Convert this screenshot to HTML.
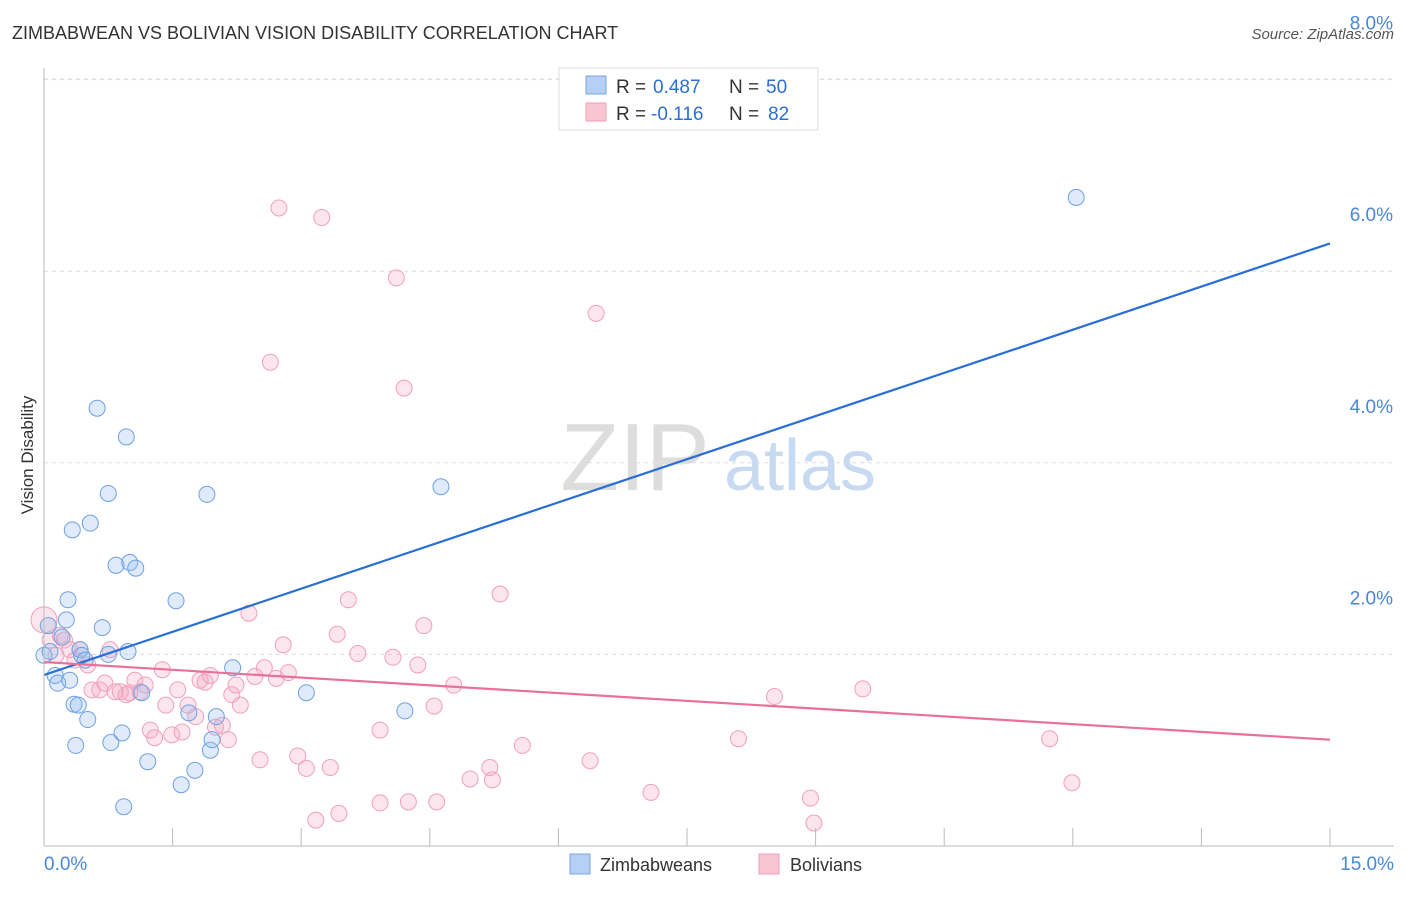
<!DOCTYPE html>
<html><head><meta charset="utf-8"><style>
body{margin:0;background:#fff;font-family:"Liberation Sans",sans-serif}
svg text{font-family:"Liberation Sans",sans-serif}
</style></head><body>
<svg width="1406" height="892" id="chart">
<text x="12" y="39" font-size="18" fill="#333">ZIMBABWEAN VS BOLIVIAN VISION DISABILITY CORRELATION CHART</text>
<text x="1394" y="39" font-size="15" fill="#555" font-style="italic" text-anchor="end">Source: ZipAtlas.com</text>
<text x="33" y="455" font-size="17" fill="#333" transform="rotate(-90 33 455)" text-anchor="middle">Vision Disability</text>
<g id="grid"></g>
<g id="wm">
<text x="635" y="490" font-size="96" fill="#ddd" font-family="Liberation Serif" text-anchor="middle">ZIP</text>
<text x="800" y="490" font-size="72" fill="#c8d9f2" text-anchor="middle">atlas</text></g>
<g id="pts"></g><g id="lines"></g><g id="axes"></g>
<g>
<rect x="559" y="68" width="259" height="62" fill="#fff" stroke="#ddd"/>
<rect x="586" y="76" width="20" height="18" fill="#b5cff5" stroke="#7aa5e0"/>
<rect x="586" y="103" width="20" height="18" fill="#f8c4d4" stroke="#f0a0ba"/>
<text x="616" y="93" font-size="19" fill="#333">R =</text>
<text x="653" y="93" font-size="19" fill="#2a6fd6">0.487</text>
<text x="729" y="93" font-size="19" fill="#333">N =</text>
<text x="766" y="93" font-size="19" fill="#2a6fd6">50</text>
<text x="616" y="120" font-size="19" fill="#333">R =</text>
<text x="651" y="120" font-size="19" fill="#2a6fd6">-0.116</text>
<text x="729" y="120" font-size="19" fill="#333">N =</text>
<text x="768" y="120" font-size="19" fill="#2a6fd6">82</text>
</g>
<g>
<rect x="570" y="854" width="20" height="20" fill="#b5cff5" stroke="#7aa5e0"/>
<text x="600" y="871" font-size="18" fill="#333">Zimbabweans</text>
<rect x="759" y="854" width="20" height="20" fill="#f8c4d4" stroke="#f0a0ba"/>
<text x="790" y="871" font-size="18" fill="#333">Bolivians</text>
</g>
</svg>
<script>
const xTicks=[0,1.5,3,4.5,6,7.5,9,10.5,12,13.5,15];
const yTicks=[2,4,6,8];
const yTickLabels=["2.0%","4.0%","6.0%","8.0%"];
const blueX=[0,.07,.13,.16,.21,.26,.28,.30,.33,.35,.37,.40,.42,.44,.48,.51,.54,.62,.68,.75,.75,.78,.84,.91,.93,.96,.98,1.00,1.07,1.14,1.21,1.54,1.60,1.69,1.76,1.90,1.94,1.96,2.01,2.20,3.06,4.21,4.63,12.04,.05];
const blueY=[1.99,2.03,1.78,1.70,2.18,2.36,2.57,1.73,3.30,1.48,1.05,1.47,2.05,1.99,1.94,1.32,3.37,4.57,2.28,3.68,2.0,1.08,2.93,1.18,.41,4.27,2.03,2.96,2.90,1.60,.88,2.56,.64,1.39,.79,3.67,1.00,1.11,1.35,1.86,1.60,1.41,3.75,6.77,2.30];
const pinkX=[0,.07,.14,.19,.24,.30,.36,.42,.51,.56,.65,.71,.77,.83,.89,.96,1.00,1.06,1.12,1.18,1.24,1.29,1.38,1.42,1.49,1.56,1.61,1.68,1.77,1.82,1.88,1.94,2.00,2.08,2.15,2.19,2.24,2.29,2.39,2.46,2.52,2.57,2.64,2.71,2.74,2.79,2.85,2.96,3.06,3.17,3.24,3.34,3.42,3.44,3.55,3.66,3.92,3.92,4.07,4.11,4.20,4.25,4.36,4.43,4.55,4.58,4.78,4.97,5.20,5.23,5.32,5.58,6.37,6.44,7.08,8.10,8.52,8.94,8.98,9.55,11.73,11.99];
const pinkY=[2.36,2.15,1.99,2.20,2.15,2.05,1.94,2.05,1.89,1.63,1.63,1.70,2.05,1.61,1.61,1.58,1.60,1.73,1.61,1.68,1.21,1.13,1.84,1.47,1.16,1.63,1.19,1.47,1.35,1.73,1.71,1.78,1.24,1.26,1.11,1.58,1.68,1.47,2.43,1.77,.90,1.86,5.05,1.75,6.66,2.10,1.81,.94,.81,.27,6.56,.82,2.21,.34,2.57,2.01,1.21,.45,1.97,5.93,4.78,.46,1.89,2.30,1.46,.46,1.68,.70,.82,.69,2.63,1.05,.89,5.56,.56,1.12,1.56,.50,.24,1.64,1.12,.66];
const blueFit=[1.785,6.29];
const pinkFit=[1.92,1.11];
const X=v=>44+v*(1286/15), Y=v=>846-v*95.8;
const NS="http://www.w3.org/2000/svg";
function mk(t,a,p){const e=document.createElementNS(NS,t);for(const k in a)e.setAttribute(k,a[k]);p.appendChild(e);return e;}
const gridG=document.getElementById('grid'),axesG=document.getElementById('axes'),ptsG=document.getElementById('pts'),linesG=document.getElementById('lines');
yTicks.forEach((v,i)=>{
 const l=mk('line',{x1:44,x2:1394,y1:Y(v),y2:Y(v),stroke:'#ddd','stroke-dasharray':'4 4'},gridG);
 
 
 const t=mk('text',{x:1393,y:Y(v)-50,'font-size':19,fill:'#4a86d8','text-anchor':'end'},axesG);
 t.textContent=yTickLabels[i];
 
 
});
mk('line',{x1:44,x2:44,y1:68,y2:846,stroke:'#bbb'},axesG);
mk('line',{x1:44,x2:1394,y1:846,y2:846,stroke:'#bbb'},axesG);
xTicks.forEach(v=>{const l=mk('line',{x1:X(v),x2:X(v),y1:828,y2:846,stroke:'#bbb'},axesG);
 
 });
const t0=mk('text',{x:44,y:870,'font-size':19,fill:'#4a86d8'},axesG);t0.textContent='0.0%';


const t1=mk('text',{x:1394,y:870,'font-size':19,fill:'#4a86d8','text-anchor':'end'},axesG);t1.textContent='15.0%';


pinkX.forEach((x,i)=>{const c=mk('circle',{cx:X(x),cy:Y(pinkY[i]),r:i==0?13:8,fill:'rgba(245,170,195,0.3)',stroke:'#f0a0ba','stroke-width':1},ptsG);
 
 });
blueX.forEach((x,i)=>{const c=mk('circle',{cx:X(x),cy:Y(blueY[i]),r:8,fill:'rgba(150,190,240,0.3)',stroke:'#6fa0e0','stroke-width':1},ptsG);
 
 });
const bl=mk('line',{x1:X(0),y1:Y(blueFit[0]),x2:X(15),y2:Y(blueFit[1]),stroke:'#2a6fd6','stroke-width':2.2},linesG);


const pl=mk('line',{x1:X(0),y1:Y(pinkFit[0]),x2:X(15),y2:Y(pinkFit[1]),stroke:'#e8709a','stroke-width':2.2},linesG);


const topGrid=mk('line',{x1:44,x2:1394,y1:79,y2:79,stroke:'#ddd','stroke-dasharray':'4 4'},gridG);


</script>
</body></html>
